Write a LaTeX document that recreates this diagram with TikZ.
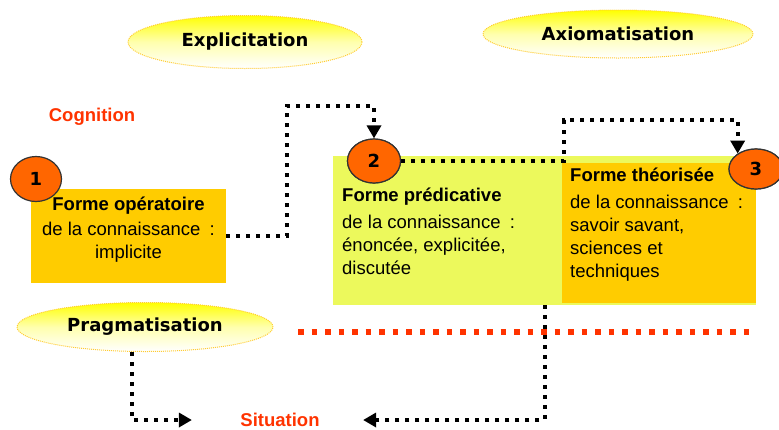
\documentclass[tikz,border=0pt]{standalone}
\usepackage{fontspec}
\setmainfont{Liberation Sans}
\newfontfamily\verdfont{DejaVu Sans}
\usetikzlibrary{arrows.meta}
\usetikzlibrary{shapes.geometric}

\definecolor{gold}{RGB}{255,204,0}
\definecolor{lime}{RGB}{236,249,92}
\definecolor{numorange}{RGB}{255,102,0}
\definecolor{redorange}{RGB}{255,51,0}
\definecolor{rimyellow}{RGB}{255,204,51}

\tikzset{
    phase/.style={
        ellipse, inner sep=0pt,
        top color=yellow, bottom color=white, middle color=yellow!32,
        draw=rimyellow, densely dotted, line width=1pt,
        font=\verdfont\bfseries\fontsize{18}{22}\selectfont,
    },
    numtag/.style={
        ellipse, inner sep=0pt,
        fill=numorange, draw=black!80, line width=1.2pt,
        font=\verdfont\bfseries\fontsize{18}{22}\selectfont,
    },
    dotlink/.style={line width=4pt, dash pattern=on 4pt off 6pt},
    arrowend/.style={-{Triangle[length=13pt,width=14pt]}},
}

\begin{document}
\begin{tikzpicture}[x=1pt, y=-1pt, font=\fontsize{18.5}{23}\selectfont]
        \useasboundingbox (0,0) rectangle (779,429);

        % the three forms
        \node (opbox) at(128.5,236) [
            rectangle, inner sep=0pt,
            minimum width=195pt, minimum height=94pt,
            fill=gold,
        ] {};
        \node (predbox) at(544.5,230.5) [
            rectangle, inner sep=0pt,
            minimum width=423pt, minimum height=149pt,
            fill=lime,
        ] {};
        \node (theobox) at(659,233) [
            rectangle, inner sep=0pt,
            minimum width=194pt, minimum height=140pt,
            fill=gold,
        ] {};

        \node (optxt) at(128.5,197) [
            anchor=north, align=center, inner sep=0pt,
        ] {\textbf{Forme opératoire}\\[2pt] de la connaissance\enspace:\\ implicite};
        \node (predtxt) at(342,188) [
            anchor=north west, align=left, inner sep=0pt,
        ] {\textbf{Forme prédicative}\\[4pt] de la connaissance\enspace:\\ énoncée, explicitée,\\ discutée};
        \node (theotxt) at(570,168) [
            anchor=north west, align=left, inner sep=0pt,
        ] {\textbf{Forme théorisée}\\[4pt] de la connaissance\enspace:\\ savoir savant,\\ sciences et\\ techniques};

        % processes
        \node (expl) at(245,42) [phase, minimum width=234pt, minimum height=53pt] {Explicitation};
        \node (axio) at(618,34) [phase, minimum width=270pt, minimum height=48pt] {Axiomatisation};
        \node (prag) at(145,327) [phase, minimum width=256pt, minimum height=49pt] {Pragmatisation};

        \node (cognition) at(92,117) [text=redorange, font=\fontsize{18.5}{23}\selectfont\bfseries] {Cognition};
        \node (situation) at(280,420) [text=redorange, font=\fontsize{18.5}{23}\selectfont\bfseries] {Situation};

        % connectors
        \coordinate (up1) at(287,106);
        \coordinate (up2) at(564,120);
        \node (num2) at(374,161) [numtag, minimum width=53pt, minimum height=44pt] {};
        \node (num3) at(756,169) [numtag, minimum width=54pt, minimum height=40pt] {};

        \draw[dotlink, arrowend] (opbox.east) -| (up1) -| (num2.north);
        \draw[dotlink, arrowend] (num2.east) -- (up2 |- num2.east) -- (up2) -| (num3.140);
        \draw[dotlink, arrowend] (predbox.south) |- ([xshift=40pt]situation.east);
        \draw[dotlink, arrowend] ([xshift=-13pt]prag.south) |- ([xshift=-45pt]situation.west);

        \coordinate (sepL) at(298,332);
        \coordinate (sepR) at(755,332);
        \draw[redorange, line width=5.5pt, dash pattern=on 5.5pt off 8pt] (sepL) -- (sepR);

        % numbers
        \node (num1) at(36,179) [numtag, minimum width=51pt, minimum height=45pt] {1};
        \node at(num2) [numtag, minimum width=53pt, minimum height=44pt] {2};
        \node at(num3) [numtag, minimum width=54pt, minimum height=40pt] {3};
    \end{tikzpicture}
\end{document}
